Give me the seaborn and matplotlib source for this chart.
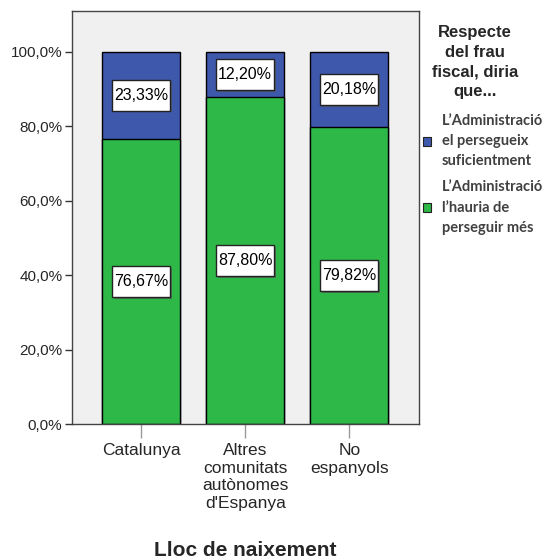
import matplotlib
matplotlib.use("Agg")
import matplotlib.pyplot as plt
import matplotlib.patches as mpatches
import matplotlib.patheffects as pe
from matplotlib.path import Path
import pandas as pd
import seaborn as sns

# dades llegides del grafic
llocs = ["Catalunya", "Altres\ncomunitats\nautònomes\nd'Espanya", "No\nespanyols"]
persegueix = [23.33, 12.20, 20.18]
hauria = [76.67, 87.80, 79.82]
ticks_y = [0, 20, 40, 60, 80, 100]
etiquetes_y = ["0,0%", "20,0%", "40,0%", "60,0%", "80,0%", "100,0%"]
titol_llegenda = "Respecte\ndel frau\nfiscal, diria\nque..."
categories = ["L\u2019Administració\nel persegueix\nsuficientment",
              "L\u2019Administració\nl\u2019hauria de\nperseguir més"]

blau = "#3E58AC"
verd = "#2EB848"

df = pd.DataFrame({"lloc": llocs, "persegueix": persegueix, "hauria": hauria})
df["total"] = df["persegueix"] + df["hauria"]

sns.set_style("white")
plt.rcParams["font.family"] = ["Liberation Sans", "DejaVu Sans"]

fig = plt.figure(figsize=(5.55, 5.58), dpi=100)
ax = fig.add_axes([72 / 555, 1 - 424 / 558, 347 / 555, 413 / 558])
ax.set_facecolor("#F0F0F0")

# barres apilades: primer el total en blau, despres el verd a sota
sns.barplot(data=df, x="lloc", y="total", color=blau, width=0.75, saturation=1,
            edgecolor="black", linewidth=1, ax=ax)
sns.barplot(data=df, x="lloc", y="hauria", color=verd, width=0.75, saturation=1,
            edgecolor="black", linewidth=1, ax=ax)


# caixa amb mes marge vertical que horitzontal
def caixa(x0, y0, width, height, mutation_size):
    px = 0.12 * mutation_size
    py = 0.5 * mutation_size
    x0, y0 = x0 - px, y0 - py
    x1, y1 = x0 + width + 2 * px, y0 + height + 2 * py
    return Path([(x0, y0), (x1, y0), (x1, y1), (x0, y1), (x0, y0)], closed=True)


def etiqueta(x, y, v):
    t = ax.text(x, y, f"{v:.2f}%".replace(".", ","), ha="center", va="center",
                fontsize=11.5, color="black",
                bbox=dict(boxstyle=caixa, fc="white", ec="#222222", lw=1))
    t.get_bbox_patch().set_path_effects([
        pe.SimplePatchShadow(offset=(1.2, -1.2), shadow_rgbFace="#555555", alpha=0.7),
        pe.Normal()])


for i in range(len(llocs)):
    etiqueta(i, hauria[i] / 2, hauria[i])
    etiqueta(i, hauria[i] + persegueix[i] / 2, persegueix[i])

ax.set_xlim(-0.665, 2.67)
ax.set_ylim(0, 111)
ax.set_yticks(ticks_y)
ax.set_yticklabels(etiquetes_y, fontsize=11)
ax.set_xticks(range(len(llocs)))
ax.set_xticklabels(llocs, fontsize=12.5, linespacing=1.2)
ax.tick_params(axis="y", length=5, width=1, color="#333333", pad=2, left=True)
ax.tick_params(axis="x", length=10, width=1, color="#999999", pad=4, bottom=True)
ax.set_xlabel("")
ax.set_ylabel("")
for s in ax.spines.values():
    s.set_color("#444444")
    s.set_linewidth(1)

fig.text(245.5 / 555, 1 - 555.5 / 558, "Lloc de naixement", ha="center",
         va="baseline", fontsize=15, fontweight="bold")

# titol de la llegenda a part
fig.text(475 / 555, 1 - 25 / 558, titol_llegenda, ha="center", va="top",
         multialignment="center", fontsize=12, fontweight="bold", linespacing=1.4)

handles = [mpatches.Patch(facecolor=blau, edgecolor="#222222", lw=0.8),
           mpatches.Patch(facecolor=verd, edgecolor="#222222", lw=0.8)]
leg = fig.legend(handles, categories, loc="upper left",
                 bbox_to_anchor=(423 / 555, 1 - 114 / 558), frameon=False,
                 handlelength=0.55, handleheight=0.55, handletextpad=0.75,
                 labelspacing=0.85, borderaxespad=0, borderpad=0,
                 prop={"family": "Lato", "weight": "bold", "size": 10.5})
for t in leg.get_texts():
    t.set_color("#404040")
    t.set_linespacing(1.55)

fig.savefig("out.png", dpi=100)
